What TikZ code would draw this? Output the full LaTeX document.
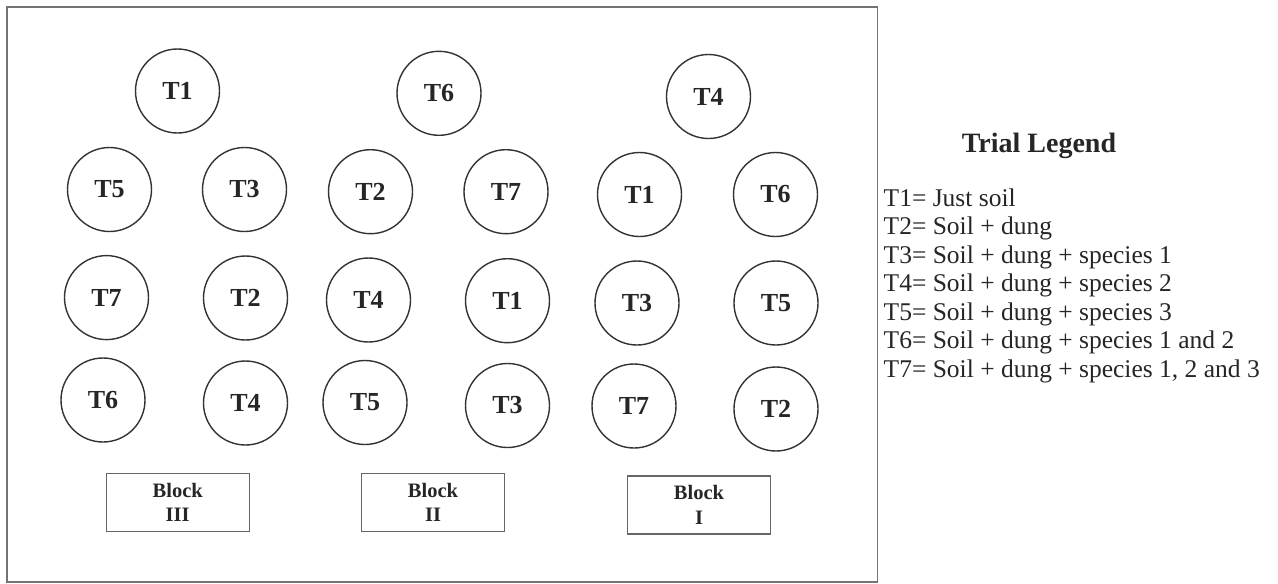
\documentclass[tikz,border=0pt]{standalone}
\usepackage{fontspec}
\setmainfont{Liberation Serif}
\begin{document}
\begin{tikzpicture}[x=1pt,y=-1pt,
  plot/.style={circle,draw=black!80,line width=1.4pt,minimum size=84pt,inner sep=0pt,
    font=\fontsize{26}{30}\selectfont\bfseries,text=black!85},
  blockbox/.style={draw=black!60,line width=1.2pt,minimum width=143pt,minimum height=58pt,
    inner sep=0pt,align=center,font=\fontsize{20.5}{24.4}\selectfont\bfseries,text=black!85},
  legline/.style={anchor=base west,inner sep=0pt,font=\fontsize{25.5}{28.5}\selectfont,text=black!85}]
\useasboundingbox (0,0) rectangle (1278,584);
\fill[white] (0,0) rectangle (1278,584);
\draw[draw=black!55,line width=1.4pt] (7,7) rectangle (877.5,582);
% Block III
\node[plot] (b3t1) at (177.5,91) {T1};
\node[plot] (b3t5) at (109.5,189.5) {T5};
\node[plot] (b3t3) at (244.5,189.5) {T3};
\node[plot] (b3t7) at (106.5,297.6) {T7};
\node[plot] (b3t2) at (245.5,298) {T2};
\node[plot] (b3t6) at (103,400) {T6};
\node[plot] (b3t4) at (245.5,403) {T4};
% Block II
\node[plot] (b2t6) at (439,93.3) {T6};
\node[plot] (b2t2) at (370.5,191.7) {T2};
\node[plot] (b2t7) at (506,191.7) {T7};
\node[plot] (b2t4) at (368.5,300) {T4};
\node[plot] (b2t1) at (507.5,300.7) {T1};
\node[plot] (b2t5) at (365,402.5) {T5};
\node[plot] (b2t3) at (507.5,405.5) {T3};
% Block I
\node[plot] (b1t4) at (708.5,96.5) {T4};
\node[plot] (b1t1) at (639.5,194.5) {T1};
\node[plot] (b1t6) at (775.5,194.5) {T6};
\node[plot] (b1t3) at (637,303) {T3};
\node[plot] (b1t5) at (776,303) {T5};
\node[plot] (b1t7) at (634,406) {T7};
\node[plot] (b1t2) at (776,409) {T2};
% Block labels
\node[blockbox] (blk3) at (177.7,502.2) {Block\\III};
\node[blockbox] (blk2) at (433,502.2) {Block\\II};
\node[blockbox] (blk1) at (699,505) {Block\\I};
% Legend
\node[font=\fontsize{28}{32}\selectfont\bfseries,text=black!85,anchor=base,inner sep=0pt] (legtitle) at (1039,152.7) {Trial Legend};
\node[legline] (l1) at (883.5,206) {T1= Just soil};
\node[legline] (l2) at (883.5,234.5) {T2= Soil + dung};
\node[legline] (l3) at (883.5,263) {T3= Soil + dung + species 1};
\node[legline] (l4) at (883.5,291.5) {T4= Soil + dung + species 2};
\node[legline] (l5) at (883.5,320) {T5= Soil + dung + species 3};
\node[legline] (l6) at (883.5,348.5) {T6= Soil + dung + species 1 and 2};
\node[legline] (l7) at (883.5,377) {T7= Soil + dung + species 1, 2 and 3};
\end{tikzpicture}
\end{document}
